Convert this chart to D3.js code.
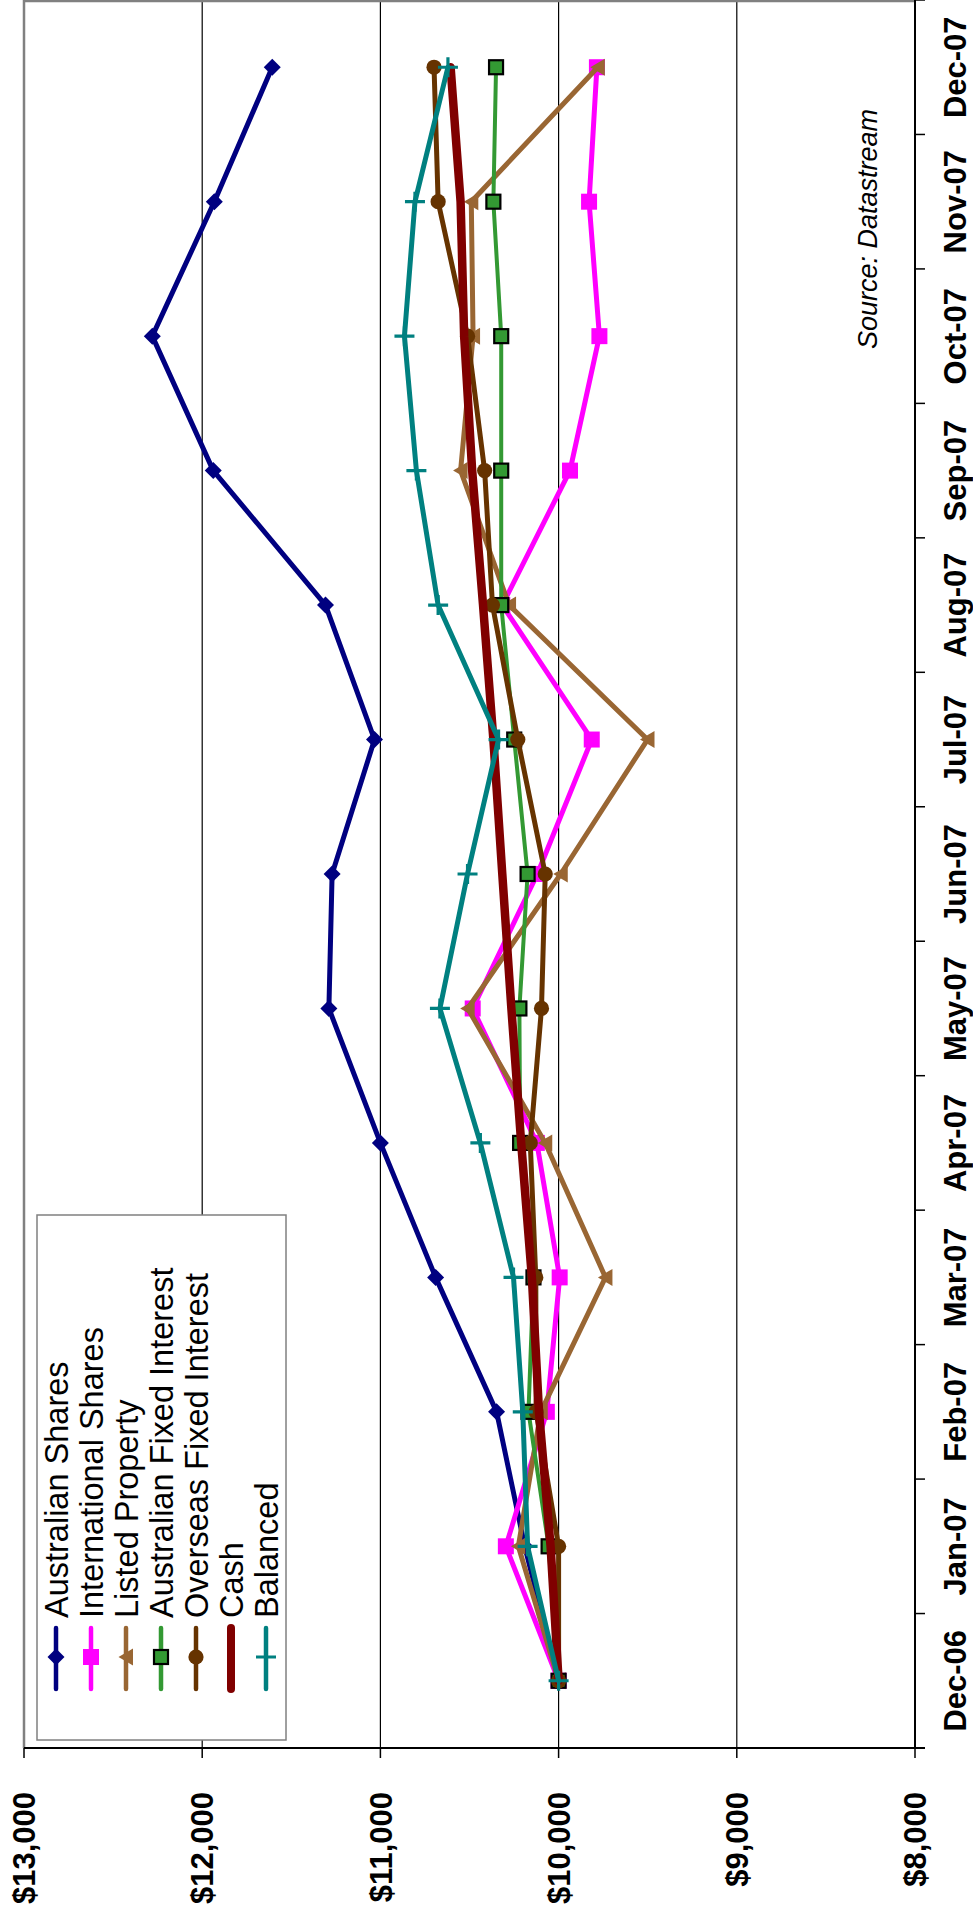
<!DOCTYPE html>
<html>
<head>
<meta charset="utf-8">
<script src="https://cdn.jsdelivr.net/npm/d3@7/dist/d3.min.js"></script>
<style>
  html, body { margin: 0; padding: 0; background: #fff; }
  svg { display: block; }
  text { font-family: "Liberation Sans", Arial, sans-serif; fill: #000; }
</style>
</head>
<body>
<svg id="chart" width="973" height="1916"></svg>
<script>
// ---- Data ----
const months = ["Dec-06","Jan-07","Feb-07","Mar-07","Apr-07","May-07","Jun-07","Jul-07","Aug-07","Sep-07","Oct-07","Nov-07","Dec-07"];
const valueTicks = [8000, 9000, 10000, 11000, 12000, 13000];
const seriesNames = ["Australian Shares","International Shares","Listed Property","Australian Fixed Interest","Overseas Fixed Interest","Cash","Balanced"];
const australianShares   = [10000, 10190, 10348, 10690, 11000, 11289, 11271, 11033, 11308, 11938, 12280, 11932, 11607];
const internationalShares= [10000, 10296, 10066,  9994, 10122, 10482, 10119,  9814, 10316,  9936,  9771,  9829,  9785];
const listedProperty     = [10000, 10226, 10100,  9737, 10075, 10510,  9988,  9501, 10278, 10550, 10480, 10490,  9780];
const ausFixedInterest   = [10000, 10056, 10169, 10141, 10216, 10220, 10174, 10249, 10322, 10322, 10322, 10366, 10351];
const osFixedInterest    = [10000, 10000, 10126, 10128, 10159, 10096, 10075, 10229, 10371, 10415, 10511, 10676, 10699];
const cash               = [10000, 10045, 10110, 10150, 10210, 10265, 10316, 10366, 10424, 10485, 10530, 10550, 10606];
const balanced           = [10000, 10174, 10201, 10253, 10439, 10666, 10511, 10337, 10676, 10798, 10865, 10806, 10621];
const sourceText = "Source: Datastream";

// ---- Styles per series ----
const styles = [
  { color: "#000080", width: 5, marker: "diamond" },
  { color: "#FF00FF", width: 5, marker: "square" },
  { color: "#996633", width: 5, marker: "triangle" },
  { color: "#339933", width: 4, marker: "squareOutlined" },
  { color: "#663300", width: 5, marker: "circle" },
  { color: "#800000", width: 8.5, marker: null },
  { color: "#008080", width: 5, marker: "plus" }
];
const allValues = [australianShares, internationalShares, listedProperty, ausFixedInterest, osFixedInterest, cash, balanced];
const series = seriesNames.map((n, i) => ({ name: n, values: allValues[i].map((v, j) => ({ m: months[j], v })), style: styles[i] }));

// ---- Layout (chart is rotated: values run horizontally, dates vertically) ----
const plot = { left: 24, right: 915, top: 0, bottom: 1748 };
const svg = d3.select("#chart");

const x = d3.scaleLinear().domain([8000, 13000]).range([plot.right, plot.left]);
const y = d3.scaleBand().domain(months).range([plot.bottom, plot.top]);
const yc = m => y(m) + y.bandwidth() / 2;

// gridlines
svg.append("g").selectAll("line").data(valueTicks.filter(v => v !== 8000 && v !== 13000)).join("line")
  .attr("x1", d => x(d)).attr("x2", d => x(d))
  .attr("y1", plot.top).attr("y2", plot.bottom)
  .attr("stroke", "#000").attr("stroke-width", 1.2);

// plot border (gray) top & left
svg.append("line").attr("x1", plot.left).attr("x2", plot.right).attr("y1", 1).attr("y2", 1)
  .attr("stroke", "#808080").attr("stroke-width", 2.5);
svg.append("line").attr("x1", plot.left).attr("x2", plot.left).attr("y1", plot.top).attr("y2", plot.bottom)
  .attr("stroke", "#808080").attr("stroke-width", 2.5);

// value axis (bottom) line + ticks
svg.append("line").attr("x1", plot.left).attr("x2", plot.right + 10).attr("y1", plot.bottom).attr("y2", plot.bottom)
  .attr("stroke", "#000").attr("stroke-width", 2);
svg.append("g").selectAll("line").data(valueTicks).join("line")
  .attr("x1", d => x(d)).attr("x2", d => x(d))
  .attr("y1", plot.bottom).attr("y2", plot.bottom + 10)
  .attr("stroke", "#000").attr("stroke-width", 1.5);
svg.append("g").selectAll("text").data(valueTicks).join("text")
  .attr("transform", d => `translate(${x(d)},${plot.bottom + 44}) rotate(-90)`)
  .attr("dy", "0.36em")
  .attr("text-anchor", "end")
  .attr("font-size", 31).attr("font-weight", "bold")
  .text(d => d3.format("$,")(d));

// date axis (right) line + ticks between categories
svg.append("line").attr("x1", plot.right).attr("x2", plot.right).attr("y1", plot.top).attr("y2", plot.bottom)
  .attr("stroke", "#000").attr("stroke-width", 2);
const boundaries = months.map(m => y(m)).concat([plot.bottom]);
svg.append("g").selectAll("line").data(boundaries).join("line")
  .attr("x1", plot.right).attr("x2", plot.right + 10)
  .attr("y1", d => d).attr("y2", d => d)
  .attr("stroke", "#000").attr("stroke-width", 1.5);
svg.append("g").selectAll("text").data(months).join("text")
  .attr("transform", d => `translate(955,${yc(d)}) rotate(-90)`)
  .attr("dy", "0.36em")
  .attr("text-anchor", "middle")
  .attr("font-size", 31).attr("font-weight", "bold")
  .text(d => d);

// source
svg.append("text")
  .attr("transform", `translate(867,229) rotate(-90)`)
  .attr("dy", "0.36em")
  .attr("text-anchor", "middle")
  .attr("font-size", 27).attr("font-style", "italic")
  .text(sourceText);

// marker drawing
function drawMarker(g, type, color) {
  if (type === "diamond") {
    g.append("path").attr("d", "M0,-8.5L8.5,0L0,8.5L-8.5,0Z").attr("fill", color);
  } else if (type === "square") {
    g.append("rect").attr("x", -8).attr("y", -8).attr("width", 16).attr("height", 16).attr("fill", color);
  } else if (type === "triangle") {
    g.append("path").attr("d", "M-7.5,0L7,-8.5L7,8.5Z").attr("fill", color);
  } else if (type === "squareOutlined") {
    g.append("rect").attr("x", -7).attr("y", -7).attr("width", 14).attr("height", 14)
      .attr("fill", color).attr("stroke", "#000").attr("stroke-width", 2.2);
  } else if (type === "circle") {
    g.append("circle").attr("r", 7.6).attr("fill", color);
  } else if (type === "plus") {
    g.append("path").attr("d", "M-10,0H10M0,-10V10").attr("stroke", color).attr("stroke-width", 3.2);
  }
}

// series
const line = d3.line().x(d => x(d.v)).y(d => yc(d.m));
series.forEach(s => {
  const g = svg.append("g");
  g.append("path").datum(s.values).attr("d", line)
    .attr("fill", "none").attr("stroke", s.style.color).attr("stroke-width", s.style.width)
    .attr("stroke-linejoin", "round").attr("stroke-linecap", "round");
  if (s.style.marker) {
    g.selectAll("g.m").data(s.values).join("g").attr("class", "m")
      .attr("transform", d => `translate(${x(d.v)},${yc(d.m)})`)
      .each(function() { drawMarker(d3.select(this), s.style.marker, s.style.color); });
  }
});

// legend
const legend = svg.append("g");
legend.append("rect").attr("x", 37).attr("y", 1215).attr("width", 249).attr("height", 525)
  .attr("fill", "#fff").attr("stroke", "#808080").attr("stroke-width", 1.5);
const legendX = d3.scalePoint().domain(seriesNames).range([56, 266]);
series.forEach(s => {
  const cx = legendX(s.name);
  const g = legend.append("g");
  g.append("line").attr("x1", cx).attr("x2", cx).attr("y1", 1628).attr("y2", 1689)
    .attr("stroke", s.style.color).attr("stroke-width", s.style.marker ? 4.5 : 8).attr("stroke-linecap", "round");
  if (s.style.marker) {
    const mg = g.append("g").attr("transform", `translate(${cx},1657)`);
    drawMarker(mg, s.style.marker, s.style.color);
  }
  g.append("text")
    .attr("transform", `translate(${cx},1618) rotate(-90)`)
    .attr("dy", "0.36em")
    .attr("text-anchor", "start")
    .attr("font-size", 32.5)
    .text(s.name);
});
</script>
</body>
</html>
